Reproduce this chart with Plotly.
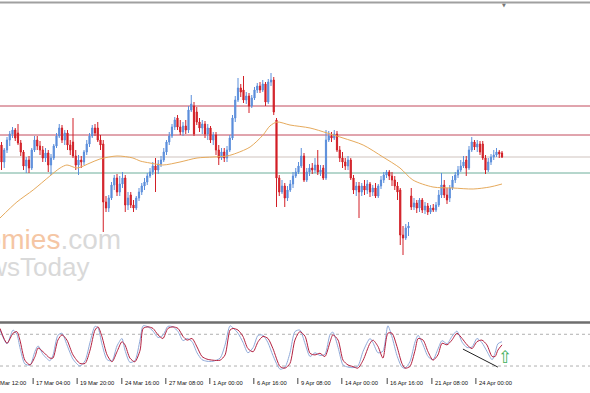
import plotly.graph_objects as go

# ---------------- price data (candles) ----------------
opens = [1.0950,1.0955,1.0938,1.0950,1.0960,1.0966,1.0970,1.0967,1.0957,1.0948,
         1.0934,1.0940,1.0932,1.0950,1.0960,1.0954,1.0950,1.0942,1.0947,1.0935,
         1.0942,1.0954,1.0964,1.0972,1.0960,1.0967,1.0955,1.0958,1.0944,1.0935,
         1.0940,1.0938,1.0948,1.0956,1.0964,1.0972,1.0972,1.0960,1.0956,1.0898,
         1.0892,1.0902,1.0915,1.0922,1.0908,1.0916,1.0922,1.0895,1.0905,1.0895,
         1.0892,1.0902,1.0908,1.0914,1.0918,1.0924,1.0928,1.0934,1.0930,1.0936,
         1.0940,1.0948,1.0958,1.0964,1.0973,1.0982,1.0973,1.0968,1.0974,1.0970,
         1.0990,1.0994,1.0988,1.0978,1.0972,1.0976,1.0966,1.0972,1.0960,1.0965,
         1.0950,1.0942,1.0948,1.0942,1.0950,1.0962,1.0982,1.1000,1.1012,1.1010,
         1.1000,1.1004,1.0994,1.1002,1.1010,1.1014,1.1010,1.1016,1.0998,1.1018,
         1.1020,1.0980,1.0922,1.0908,1.0914,1.0902,1.0910,1.0916,1.0924,1.0928,
         1.0934,1.0944,1.0920,1.0928,1.0932,1.0930,1.0935,1.0928,1.0932,1.0922,
         1.0960,1.0964,1.0962,1.0966,1.0950,1.0942,1.0938,1.0934,1.0940,1.0922,
         1.0910,1.0914,1.0908,1.0914,1.0910,1.0916,1.0908,1.0912,1.0904,1.0914,
         1.0920,1.0925,1.0928,1.0924,1.0920,1.0914,1.0910,1.0865,1.0862,1.0872,
         1.0904,1.0893,1.0897,1.0892,1.0900,1.0890,1.0894,1.0888,1.0892,1.0890,
         1.0895,1.0905,1.0915,1.0905,1.0902,1.0912,1.0920,1.0925,1.0930,1.0934,
         1.0940,1.0932,1.0950,1.0958,1.0953,1.0956,1.0956,1.0942,1.0930,1.0938,
         1.0943,1.0945,1.0948,1.0947]
highs = [1.0954,1.0958,1.0952,1.0963,1.0969,1.0973,1.0972,1.0976,1.0960,1.0950,
         1.0943,1.0944,1.0952,1.0964,1.0964,1.0959,1.0954,1.0952,1.0950,1.0946,
         1.0956,1.0967,1.0976,1.0975,1.0970,1.0970,1.0960,1.0982,1.0950,1.0945,
         1.0944,1.0950,1.0960,1.0967,1.0975,1.0976,1.0978,1.0965,1.0960,1.0904,
         1.0905,1.0918,1.0925,1.0926,1.0924,1.0928,1.0925,1.0908,1.0908,1.0900,
         1.0904,1.0912,1.0917,1.0922,1.0927,1.0932,1.0938,1.0942,1.0940,1.0944,
         1.0952,1.0960,1.0968,1.0976,1.0983,1.0985,1.0980,1.0978,1.0980,1.0994,
         1.1005,1.0998,1.0993,1.0982,1.0980,1.0979,1.0976,1.0974,1.0968,1.0968,
         1.0955,1.0952,1.0952,1.0954,1.0965,1.0985,1.1004,1.1022,1.1016,1.1024,
         1.1008,1.1007,1.1005,1.1013,1.1017,1.1018,1.1020,1.1018,1.1021,1.1027,
         1.1023,1.0982,1.0925,1.0920,1.0917,1.0914,1.0920,1.0928,1.0932,1.0938,
         1.0952,1.0947,1.0932,1.0936,1.0937,1.0942,1.0950,1.0935,1.0935,1.0970,
         1.0969,1.0968,1.0970,1.0969,1.0954,1.0948,1.0942,1.0944,1.0942,1.0925,
         1.0918,1.0918,1.0917,1.0920,1.0920,1.0918,1.0915,1.0917,1.0916,1.0924,
         1.0928,1.0930,1.0930,1.0928,1.0924,1.0918,1.0912,1.0874,1.0876,1.0878,
         1.0912,1.0902,1.0900,1.0902,1.0902,1.0898,1.0897,1.0895,1.0896,1.0898,
         1.0910,1.0927,1.0920,1.0912,1.0915,1.0924,1.0928,1.0934,1.0940,1.0944,
         1.0944,1.0954,1.0963,1.0960,1.0960,1.0959,1.0959,1.0945,1.0942,1.0946,
         1.0950,1.0952,1.0950,1.0949]
lows = [1.0935,1.0930,1.0932,1.0947,1.0954,1.0962,1.0959,1.0955,1.0944,1.0930,
        1.0927,1.0927,1.0930,1.0948,1.0950,1.0945,1.0938,1.0938,1.0928,1.0925,
        1.0940,1.0952,1.0962,1.0957,1.0955,1.0950,1.0945,1.0942,1.0930,1.0925,
        1.0932,1.0935,1.0945,1.0953,1.0962,1.0964,1.0958,1.0950,1.0868,1.0888,
        1.0888,1.0900,1.0910,1.0904,1.0904,1.0912,1.0888,1.0890,1.0892,1.0888,
        1.0890,1.0899,1.0905,1.0910,1.0915,1.0922,1.0925,1.0908,1.0926,1.0933,
        1.0938,1.0945,1.0955,1.0962,1.0970,1.0970,1.0965,1.0964,1.0966,1.0967,
        1.0988,1.0964,1.0975,1.0968,1.0966,1.0962,1.0960,1.0957,1.0955,1.0945,
        1.0935,1.0940,1.0938,1.0938,1.0948,1.0960,1.0978,1.0998,1.1003,1.0997,
        1.0996,1.0987,1.0992,1.1000,1.1007,1.1007,1.1008,1.0994,1.0996,1.1014,
        1.0985,1.0893,1.0904,1.0906,1.0893,1.0899,1.0908,1.0912,1.0922,1.0926,
        1.0932,1.0918,1.0918,1.0924,1.0926,1.0927,1.0925,1.0924,1.0920,1.0920,
        1.0958,1.0958,1.0960,1.0948,1.0938,1.0932,1.0930,1.0930,1.0920,1.0906,
        1.0904,1.0882,1.0904,1.0905,1.0906,1.0903,1.0904,1.0902,1.0902,1.0911,
        1.0917,1.0922,1.0920,1.0914,1.0910,1.0900,1.0855,1.0845,1.0860,1.0864,
        1.0890,1.0890,1.0887,1.0888,1.0887,1.0886,1.0885,1.0886,1.0888,1.0888,
        1.0893,1.0902,1.0902,1.0896,1.0898,1.0910,1.0917,1.0922,1.0928,1.0932,
        1.0924,1.0930,1.0948,1.0950,1.0948,1.0945,1.0940,1.0926,1.0928,1.0935,
        1.0940,1.0943,1.0942,1.0942]
closes = [1.0940,1.0938,1.0950,1.0960,1.0966,1.0970,1.0962,1.0957,1.0948,1.0934,
          1.0940,1.0932,1.0950,1.0960,1.0954,1.0950,1.0942,1.0947,1.0935,1.0942,
          1.0954,1.0964,1.0972,1.0960,1.0967,1.0955,1.0950,1.0944,1.0935,1.0940,
          1.0938,1.0948,1.0956,1.0964,1.0972,1.0967,1.0960,1.0955,1.0898,1.0892,
          1.0902,1.0915,1.0922,1.0908,1.0916,1.0922,1.0895,1.0902,1.0895,1.0892,
          1.0902,1.0908,1.0914,1.0918,1.0924,1.0928,1.0934,1.0930,1.0936,1.0940,
          1.0948,1.0958,1.0964,1.0973,1.0980,1.0973,1.0968,1.0974,1.0970,1.0990,
          1.0996,1.0966,1.0978,1.0972,1.0976,1.0966,1.0972,1.0960,1.0965,1.0950,
          1.0942,1.0948,1.0942,1.0950,1.0962,1.0982,1.1000,1.1012,1.1008,1.1000,
          1.1004,1.0994,1.1002,1.1010,1.1014,1.1010,1.1016,1.0998,1.1018,1.1020,
          1.0988,1.0922,1.0908,1.0914,1.0902,1.0910,1.0916,1.0924,1.0928,1.0934,
          1.0944,1.0920,1.0928,1.0932,1.0930,1.0935,1.0928,1.0930,1.0922,1.0960,
          1.0964,1.0962,1.0966,1.0950,1.0942,1.0938,1.0934,1.0940,1.0922,1.0910,
          1.0914,1.0908,1.0914,1.0910,1.0916,1.0908,1.0912,1.0904,1.0914,1.0920,
          1.0925,1.0928,1.0924,1.0920,1.0914,1.0908,1.0865,1.0862,1.0872,1.0874,
          1.0893,1.0897,1.0892,1.0900,1.0890,1.0894,1.0888,1.0892,1.0890,1.0895,
          1.0905,1.0915,1.0905,1.0900,1.0912,1.0920,1.0925,1.0930,1.0934,1.0938,
          1.0932,1.0950,1.0958,1.0953,1.0956,1.0948,1.0942,1.0930,1.0938,1.0943,
          1.0945,1.0948,1.0946,1.0943]
bars = list(range(len(opens)))

# moving average (read at sample bars)
ma_x = [0.45,6.6,12.5,18.6,22.3,24.8,28.5,33.2,36.8,43.0,48.8,51.4,55.0,59.7,65.9,72.1,77.9,83.0,
        86.6,91.4,96.1,98.6,101.2,105.9,113.2,119.4,125.2,132.5,139.7,145.9,150.6,157.9,165.2,
        172.5,178.6,183.0]
ma_y = [1.0882,1.0898,1.0910,1.0924,1.0932,1.0935,1.0932,1.0937,1.0941,1.0944,1.0942,1.0939,
        1.0937,1.0935,1.0938,1.0942,1.0943,1.0944,1.0947,1.0953,1.0965,1.0974,1.0978,1.0975,
        1.0972,1.0967,1.0962,1.0955,1.0943,1.0932,1.0920,1.0913,1.0912,1.0911,1.0913,1.0916]

# horizontal support / resistance levels
res_levels = [1.0994, 1.0965]
pivot_level = [1.0943]
sup_level = [1.0927]

# ---------------- stochastic ----------------
st_x = [0.45,3.0,5.2,6.6,7.7,9.5,11.4,13.2,14.3,16.1,18.6,19.7,21.5,23.0,24.8,27.0,29.5,31.4,
        33.2,35.0,36.1,37.5,39.4,41.2,43.0,44.8,45.9,47.7,49.5,51.4,52.5,54.3,56.1,57.9,59.7,
        61.5,63.4,65.2,67.0,68.5,70.3,72.1,73.9,75.7,77.9,80.5,82.3,84.1,85.2,87.0,88.8,90.6,
        92.5,94.3,96.1,97.9,99.7,102.3,104.1,105.9,107.7,109.5,111.4,113.2,115.0,116.8,118.6,
        120.5,121.5,123.4,125.2,127.0,128.8,130.6,132.5,135.0,136.1,137.9,139.7,141.5,143.0,
        144.8,146.6,147.7,149.5,151.4,152.5,154.3,156.1,157.9,159.7,161.2,163.0,164.8,166.6,
        168.5,170.3,172.1,173.9,175.7,177.5,179.4,180.5,181.5,183.0]
st_signal = [91,63,82,85,69,31,22,38,54,47,35,35,69,79,69,41,25,25,50,88,94,76,41,28,47,66,60,
             35,28,50,91,94,91,79,72,91,94,91,76,69,72,56,38,33,31,31,41,88,91,88,76,53,47,66,
             76,72,53,19,16,25,69,85,76,44,41,44,38,66,79,69,31,22,19,16,31,63,69,57,35,82,82,
             57,25,16,19,50,72,69,47,31,41,63,60,69,82,72,60,53,66,69,60,38,38,50,60]
st_main = [88,62,88,80,55,24,22,48,58,42,30,40,78,82,60,33,20,30,65,95,92,62,32,30,58,72,50,
           27,30,70,96,94,86,74,78,95,94,85,68,72,66,45,32,29,29,35,60,96,92,82,65,45,55,78,
           78,64,40,14,18,45,85,88,62,38,45,40,42,80,84,55,22,18,17,20,48,72,64,45,48,96,75,
           40,18,16,28,66,78,60,38,32,52,68,62,76,86,65,55,56,72,64,48,32,45,62,66]
st_levels = [80, 20]
trend_x = [168.8, 181.5]
trend_v = [52, 18]

# ---------------- time labels ----------------
tick_bars = [-3.5, 12.5, 28.5, 44.75, 60.75, 76.75, 92.75, 108.75, 124.75, 141.25, 157.5, 173.5]
tick_text = ["14 Mar 12:00", "17 Mar 04:00", "19 Mar 20:00", "24 Mar 16:00", "27 Mar 08:00",
             "1 Apr 00:00", "6 Apr 16:00", "9 Apr 08:00", "14 Apr 00:00", "16 Apr 16:00",
             "21 Apr 08:00", "24 Apr 00:00"]

BLUE = "#5B8EDB"
RED = "#D21F26"
W, H = 590, 393
XR = [0.4545, 215.0]

fig = go.Figure()
fig.add_trace(go.Candlestick(
    x=bars, open=opens, high=highs, low=lows, close=closes,
    increasing=dict(line=dict(color=BLUE, width=1), fillcolor=BLUE),
    decreasing=dict(line=dict(color=RED, width=1), fillcolor=RED),
    whiskerwidth=0, xaxis="x", yaxis="y", hoverinfo="skip"))
fig.add_trace(go.Scatter(x=ma_x, y=ma_y, mode="lines",
                         line=dict(color="#E6AA5C", width=1, shape="spline", smoothing=0.8),
                         xaxis="x", yaxis="y", hoverinfo="skip"))
fig.add_trace(go.Scatter(x=st_x, y=st_main, mode="lines",
                         line=dict(color="#8FA9D8", width=1, shape="spline", smoothing=0.7),
                         xaxis="x2", yaxis="y2", hoverinfo="skip"))
fig.add_trace(go.Scatter(x=st_x, y=st_signal, mode="lines",
                         line=dict(color="#B3203F", width=1, shape="spline", smoothing=0.7),
                         xaxis="x2", yaxis="y2", hoverinfo="skip"))
fig.add_trace(go.Scatter(x=trend_x, y=trend_v, mode="lines",
                         line=dict(color="#222222", width=1),
                         xaxis="x2", yaxis="y2", hoverinfo="skip"))

shapes = []
for lv in res_levels:
    shapes.append(dict(type="line", xref="paper", yref="y", x0=0, x1=1, y0=lv, y1=lv,
                       line=dict(color="#C24A5C", width=1), layer="below"))
for lv in pivot_level:
    shapes.append(dict(type="line", xref="paper", yref="y", x0=0, x1=1, y0=lv, y1=lv,
                       line=dict(color="#CFC3BE", width=1), layer="below"))
for lv in sup_level:
    shapes.append(dict(type="line", xref="paper", yref="y", x0=0, x1=1, y0=lv, y1=lv,
                       line=dict(color="#6DAE9A", width=1), layer="below"))
for lv in st_levels:
    shapes.append(dict(type="line", xref="paper", yref="y2", x0=0, x1=1, y0=lv, y1=lv,
                       line=dict(color="#B0B0B0", width=1, dash="dot"), layer="below"))
# frame lines
shapes.append(dict(type="line", xref="paper", yref="paper", x0=0, x1=1,
                   y0=1 - 2.5 / H, y1=1 - 2.5 / H, line=dict(color="#A0A0A0", width=2)))
shapes.append(dict(type="line", xref="paper", yref="paper", x0=0, x1=1,
                   y0=1 - 322.5 / H, y1=1 - 322.5 / H, line=dict(color="#6E6E6E", width=2.5)))

annotations = []
for b, t in zip(tick_bars, tick_text):
    px = (b - XR[0]) / (XR[1] - XR[0])
    shapes.append(dict(type="line", xref="paper", yref="paper", x0=px, x1=px,
                       y0=1 - 378 / H, y1=1 - 384 / H, line=dict(color="#444444", width=1)))
    annotations.append(dict(text=t, xref="paper", yref="paper", x=px, y=1 - 383 / H,
                            xanchor="left", yanchor="middle", xshift=1, showarrow=False,
                            font=dict(family="Liberation Sans", size=5.8, color="#111111")))

# watermark
annotations.append(dict(
    text="<span style='color:#F5C6A4'>economies</span><span style='color:#D9D9D9'>.com</span>",
    xref="paper", yref="paper", x=123 / W, y=1 - 239 / H, xanchor="right", yanchor="middle",
    showarrow=False, font=dict(family="Liberation Sans", size=28, color="#D9D9D9")))
annotations.append(dict(
    text="NewsToday", xref="paper", yref="paper", x=91 / W, y=1 - 267 / H,
    xanchor="right", yanchor="middle", showarrow=False,
    font=dict(family="Liberation Sans", size=26, color="#D9D9D9")))
# green arrow signal
annotations.append(dict(text="⇧", xref="paper", yref="paper", x=505 / W, y=1 - 357 / H,
                        xanchor="center", yanchor="middle", showarrow=False,
                        font=dict(family="DejaVu Sans", size=17, color="#3FAF5C")))
# chart shift marker
annotations.append(dict(text="▼", xref="paper", yref="paper", x=504 / W, y=1 - 5 / H,
                        xanchor="center", yanchor="middle", showarrow=False,
                        font=dict(family="DejaVu Sans", size=5, color="#777777")))

fig.update_layout(
    width=W, height=H, margin=dict(l=0, r=0, t=0, b=0),
    paper_bgcolor="white", plot_bgcolor="white", showlegend=False,
    boxgap=0.4,
    xaxis=dict(domain=[0, 1], range=XR, visible=False, rangeslider=dict(visible=False),
               anchor="y"),
    yaxis=dict(domain=[1 - 321 / H, 1 - 3 / H], range=[1.0779, 1.1097], visible=False,
               anchor="x"),
    xaxis2=dict(domain=[0, 1], range=XR, visible=False, anchor="y2"),
    yaxis2=dict(domain=[1 - 376.6 / H, 1 - 323.7 / H], range=[0, 100], visible=False,
                anchor="x2"),
    shapes=shapes, annotations=annotations,
)

fig.write_html("out.html")
